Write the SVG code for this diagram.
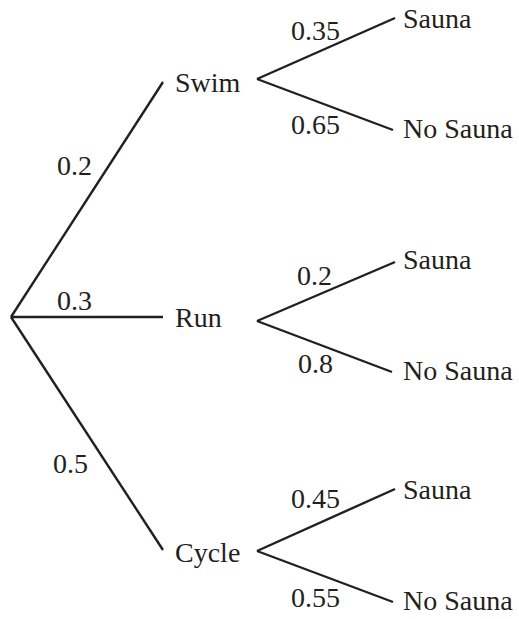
<svg xmlns="http://www.w3.org/2000/svg" width="519" height="619" viewBox="0 0 519 619">
<style>
text{font-family:"Liberation Serif","Times New Roman",serif;font-size:28px;fill:#231f20}
.c line{stroke:#231f20;stroke-width:2.4;stroke-linecap:butt}
</style>
<rect width="519" height="619" fill="#fff"/>
<g class="c" id="connectors">
<line x1="11" y1="317" x2="163" y2="82"/>
<line x1="11" y1="317" x2="163" y2="317"/>
<line x1="11" y1="317" x2="163" y2="550"/>
<line x1="257" y1="79" x2="395" y2="18"/>
<line x1="257" y1="79" x2="393" y2="130"/>
<line x1="257" y1="321" x2="395" y2="262"/>
<line x1="257" y1="321" x2="392" y2="372"/>
<line x1="257" y1="551" x2="395" y2="489"/>
<line x1="257" y1="551" x2="393" y2="602"/>
</g>
<g id="labels">
<text x="57" y="175">0.2</text>
<text x="57" y="310">0.3</text>
<text x="53" y="473">0.5</text>
<text x="291" y="40">0.35</text>
<text x="291" y="134">0.65</text>
<text x="297" y="285">0.2</text>
<text x="298" y="373">0.8</text>
<text x="291" y="508">0.45</text>
<text x="291" y="607">0.55</text>
</g>
<g id="swim"><text x="175" y="92">Swim</text></g>
<g id="run"><text x="175" y="327">Run</text></g>
<g id="cycle"><text x="175" y="562">Cycle</text></g>
<g id="swim-sauna"><text x="403" y="28">Sauna</text></g>
<g id="swim-nosauna"><text x="403" y="138">No Sauna</text></g>
<g id="run-sauna"><text x="403" y="269">Sauna</text></g>
<g id="run-nosauna"><text x="403" y="380">No Sauna</text></g>
<g id="cycle-sauna"><text x="403" y="499">Sauna</text></g>
<g id="cycle-nosauna"><text x="403" y="610">No Sauna</text></g>
</svg>
